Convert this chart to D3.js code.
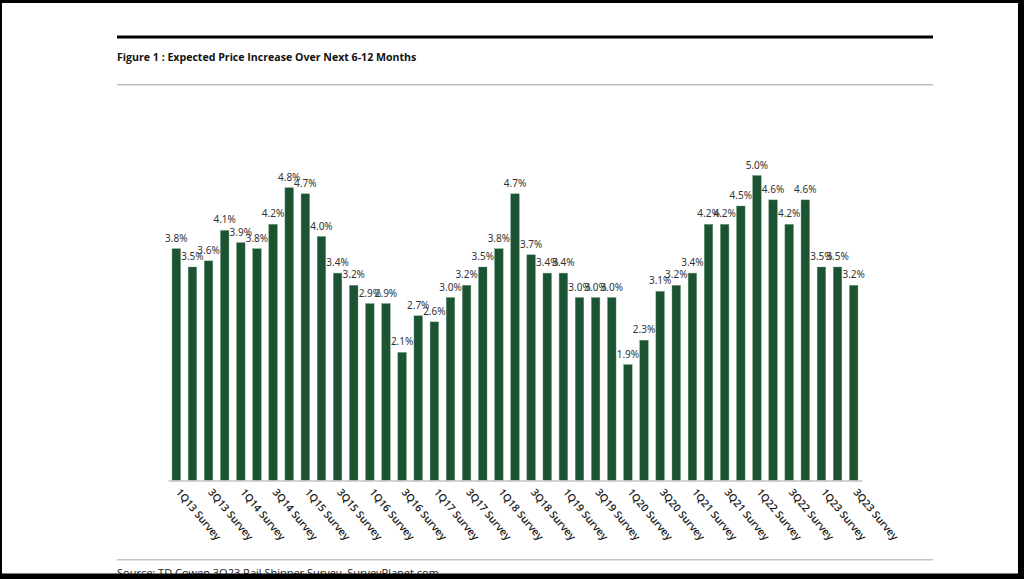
<!DOCTYPE html>
<html>
<head>
<meta charset="utf-8">
<script src="https://cdn.jsdelivr.net/npm/d3@7"></script>
<style>
  html, body { margin: 0; padding: 0; background: #fff; }
  svg { display: block; }
</style>
</head>
<body>
<div id="chart"></div>
<script>
const categories = [
  '1Q13 Survey', '2Q13 Survey', '3Q13 Survey', '4Q13 Survey',
  '1Q14 Survey', '2Q14 Survey', '3Q14 Survey', '4Q14 Survey',
  '1Q15 Survey', '2Q15 Survey', '3Q15 Survey', '4Q15 Survey',
  '1Q16 Survey', '2Q16 Survey', '3Q16 Survey', '4Q16 Survey',
  '1Q17 Survey', '2Q17 Survey', '3Q17 Survey', '4Q17 Survey',
  '1Q18 Survey', '2Q18 Survey', '3Q18 Survey', '4Q18 Survey',
  '1Q19 Survey', '2Q19 Survey', '3Q19 Survey', '4Q19 Survey',
  '1Q20 Survey', '2Q20 Survey', '3Q20 Survey', '4Q20 Survey',
  '1Q21 Survey', '2Q21 Survey', '3Q21 Survey', '4Q21 Survey',
  '1Q22 Survey', '2Q22 Survey', '3Q22 Survey', '4Q22 Survey',
  '1Q23 Survey', '2Q23 Survey', '3Q23 Survey'
];
const priceIncrease = [
  3.8, 3.5, 3.6, 4.1, 3.9, 3.8, 4.2, 4.8, 4.7, 4.0,
  3.4, 3.2, 2.9, 2.9, 2.1, 2.7, 2.6, 3.0, 3.2, 3.5,
  3.8, 4.7, 3.7, 3.4, 3.4, 3.0, 3.0, 3.0, 1.9, 2.3,
  3.1, 3.2, 3.4, 4.2, 4.2, 4.5, 5.0, 4.6, 4.2, 4.6,
  3.5, 3.5, 3.2
];
// only every other quarter gets an axis label
const shownTicks = categories.filter((d, i) => i % 2 === 0);

const titleText = 'Figure 1 : Expected Price Increase Over Next 6-12 Months';
const sourceText = 'Source: TD Cowen 3Q23 Rail Shipper Survey, SurveyPlanet.com';

const width = 1024, height = 579;
const BAR = '#1c5333';

const svg = d3.select('#chart').append('svg')
  .attr('width', width)
  .attr('height', height);

// header rules + title
svg.append('rect').attr('x', 117).attr('y', 35.5).attr('width', 816).attr('height', 3).attr('fill', '#000');
svg.append('text')
  .attr('x', 117).attr('y', 61)
  .attr('font-family', 'Open Sans, sans-serif')
  .attr('font-size', 10.6)
  .attr('font-weight', 700)
  .attr('fill', '#111')
  .text(titleText);
svg.append('rect').attr('x', 117).attr('y', 84).attr('width', 816).attr('height', 1.5).attr('fill', '#bdbdbd');

// scales
const x = d3.scaleBand()
  .domain(categories)
  .range([168, 862])
  .paddingInner(0.47)
  .paddingOuter(0.25);

const y = d3.scaleLinear()
  .domain([0, 5])
  .range([480.5, 175.5]);

// bars
svg.append('g')
  .selectAll('rect')
  .data(priceIncrease)
  .enter().append('rect')
    .attr('x', (d, i) => x(categories[i]))
    .attr('y', d => y(d))
    .attr('width', x.bandwidth())
    .attr('height', d => y(0) - y(d))
    .attr('fill', BAR)
    .attr('stroke', '#6f9a7c')
    .attr('stroke-width', 0.4);

// value labels
svg.append('g')
  .selectAll('text')
  .data(priceIncrease)
  .enter().append('text')
    .attr('x', (d, i) => x(categories[i]) + x.bandwidth() / 2)
    .attr('y', d => y(d) - 7)
    .attr('text-anchor', 'middle')
    .attr('font-family', 'Noto Sans, sans-serif')
    .attr('font-size', 10)
    .attr('fill', '#333')
    .text(d => d.toFixed(1) + '%');

// x axis
const xAxis = d3.axisBottom(x)
  .tickValues(shownTicks)
  .tickSize(0)
  .tickPadding(0);

const gx = svg.append('g')
  .attr('transform', `translate(0,${y(0)})`)
  .call(xAxis);

gx.select('.domain')
  .attr('stroke', '#c4c4c4')
  .attr('stroke-width', 1.5);

gx.selectAll('text')
  .attr('font-family', 'Open Sans, sans-serif')
  .attr('font-size', 10.5)
  .attr('font-weight', 600)
  .attr('fill', '#1a1a1a')
  .attr('text-anchor', 'start')
  .attr('dy', 0)
  .attr('transform', 'translate(-1,12) rotate(50)');

// footer
svg.append('rect').attr('x', 117).attr('y', 559).attr('width', 816).attr('height', 1.5).attr('fill', '#c4c4c4');
svg.append('text')
  .attr('x', 117).attr('y', 577)
  .attr('font-family', 'Open Sans, sans-serif')
  .attr('font-size', 11)
  .attr('fill', '#222')
  .text(sourceText);

// black frame around the screenshot
svg.append('rect').attr('x', 0).attr('y', 0).attr('width', width).attr('height', 3).attr('fill', '#000');
svg.append('rect').attr('x', 0).attr('y', 0).attr('width', 2).attr('height', height).attr('fill', '#000');
svg.append('rect').attr('x', 1018).attr('y', 0).attr('width', 6).attr('height', height).attr('fill', '#000');
svg.append('rect').attr('x', 0).attr('y', 573.5).attr('width', width).attr('height', 6).attr('fill', '#000');
</script>
</body>
</html>
